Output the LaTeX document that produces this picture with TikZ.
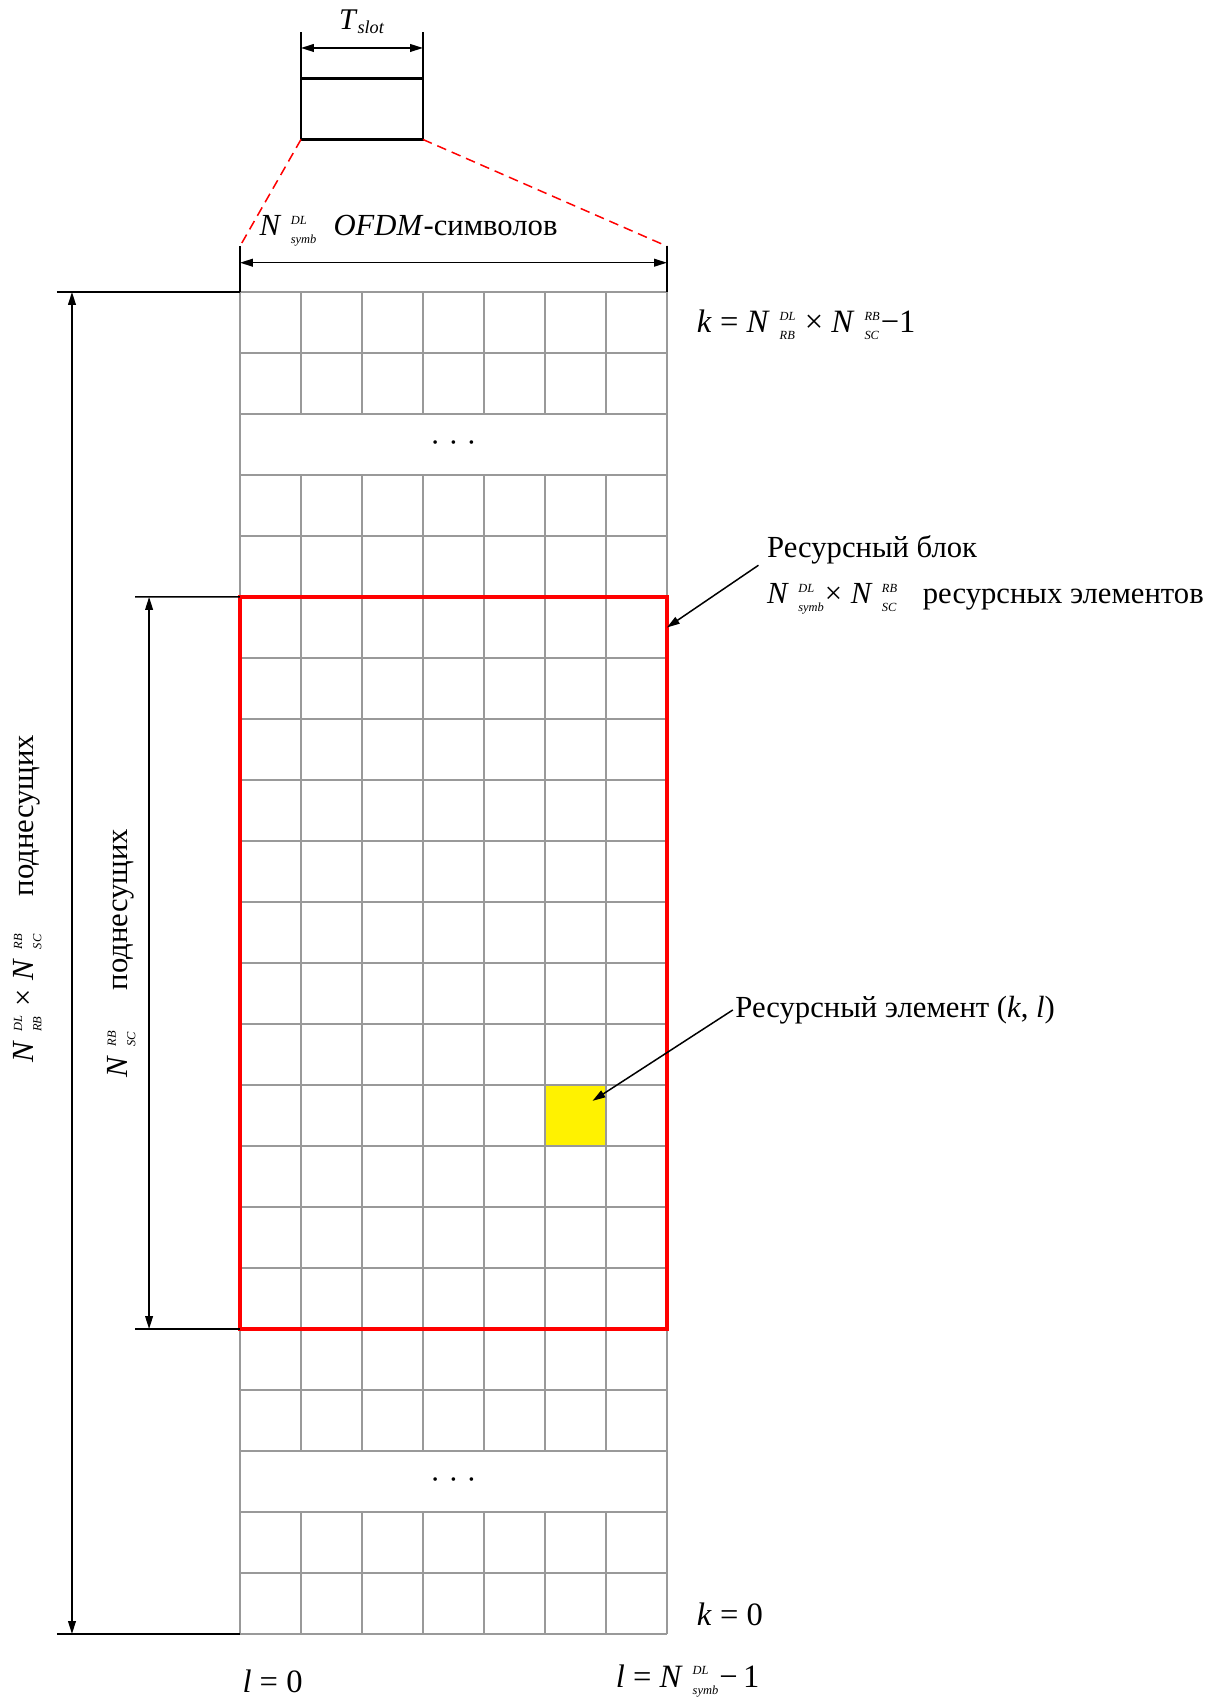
\documentclass[tikz,border=0pt]{standalone}
\usepackage{amsmath}
\usepackage{fontspec}
\setmainfont{Liberation Serif}
\usetikzlibrary{arrows.meta, positioning}

% small stacked indices next to N
\newcommand{\idxfont}{\fontsize{5.8}{6}\selectfont\itshape}
\newcommand{\Nidx}[2]{\ensuremath{\textit{N}^{\hspace{0.35em}\hbox{\idxfont #1}}_{\hspace{0.35em}\hbox{\idxfont #2}}}}

\begin{document}
\begin{tikzpicture}[
    x=1cm, y=1cm,
    every node/.style={font=\fontsize{14.3}{17}\selectfont, inner sep=1pt},
    idxlabel/.style={anchor=west, font=\fontsize{15.2}{18}\selectfont},
    cell/.style={draw=black!40, line width=0.7pt},
    rblock/.style={draw=red, line width=1.7pt, minimum width=7cm, minimum height=12cm, anchor=south west, inner sep=0pt, outer sep=0pt},
    relem/.style={fill=yellow, minimum width=1cm, minimum height=1cm, anchor=south west, inner sep=0pt, outer sep=0pt},
    slotbox/.style={draw, line width=1.3pt, minimum width=2cm, minimum height=1cm, inner sep=0pt, outer sep=0pt},
    dimarrow/.style={{Triangle[length=6pt,width=3.6pt]}-{Triangle[length=6pt,width=3.6pt]}, line width=0.7pt},
    extline/.style={line width=0.7pt},
    zoomline/.style={red, line width=0.7pt, dash pattern=on 4.5pt off 2.8pt},
    pointer/.style={-{Triangle[length=6pt,width=3.6pt]}, line width=0.7pt}
]
    \useasboundingbox (-3.934,-1.066) rectangle (15.869,26.787);

    % resource grid
    \node [relem] (re) at (5,8) {};
    \foreach \y in {0,...,22}
        \draw [cell] (0,\y) -- (7,\y);
    \foreach \x in {1,...,6} {
        \draw [cell] (\x,0) -- (\x,2);
        \draw [cell] (\x,3) -- (\x,19);
        \draw [cell] (\x,20) -- (\x,22);
    }
    \draw [cell] (0,0) -- (0,22);
    \draw [cell] (7,0) -- (7,22);
    \node (dotsTop) at (3.5,19.5) {\fontsize{7}{7}\selectfont •\hspace{6pt}•\hspace{6pt}•};
    \node (dotsBot) at (3.5,2.5) {\fontsize{7}{7}\selectfont •\hspace{6pt}•\hspace{6pt}•};
    \node [rblock] (rb) at (0,5) {};

    % slot and OFDM symbols
    \node [slotbox] (slot) at (2,25) {};
    \node [font=\fontsize{14}{16}\selectfont] (tslot) at (2,26.43) {\textit{T}$_{\hbox{\fontsize{8.5}{9}\selectfont\itshape slot}}$};
    \coordinate (sL) at (1,26.27);
    \coordinate (sR) at (3,26.27);
    \draw [extline] (slot.north west) -- (sL);
    \draw [extline] (slot.north east) -- (sR);
    \draw [dimarrow] (1,26) -- (3,26);

    \coordinate (gL) at (0,22.75);
    \coordinate (gR) at (7,22.75);
    \draw [zoomline] (slot.south west) -- (gL);
    \draw [zoomline] (slot.south east) -- (gR);
    \draw [extline] (0,22) -- (gL);
    \draw [extline] (7,22) -- (gR);
    \draw [dimarrow] (0,22.48) -- (7,22.48);
    \node [anchor=west] (ofdm) at (0.28,23.0) {\Nidx{DL}{symb}\; \textit{OFDM}-символов};

    % subcarrier dimensions
    \coordinate (oT) at (-3.0,22);
    \coordinate (oB) at (-3.0,0);
    \draw [extline] (oT) -- (0,22);
    \draw [extline] (oB) -- (0,0);
    \draw [dimarrow] (-2.754,0) -- (-2.754,22);
    \node [rotate=90] (allsc) at (-3.48,12.05) {\Nidx{DL}{RB}\;×\;\Nidx{RB}{SC}\hspace{1.2em}поднесущих};

    \coordinate (iT) at (-1.72,17);
    \coordinate (iB) at (-1.72,5);
    \draw [extline] (iT) -- (rb.north west);
    \draw [extline] (iB) -- (rb.south west);
    \draw [dimarrow] (-1.49,5) -- (-1.49,17);
    \node [rotate=90] (rbsc) at (-1.94,11.16) {\Nidx{RB}{SC}\hspace{1.3em}поднесущих};

    % indices
    \node [idxlabel] (kmax) at (7.45,21.46) {\textit{k} = \Nidx{DL}{RB} × \Nidx{RB}{SC}−1};
    \node [idxlabel] (kmin) at (7.45,0.32) {\textit{k} = 0};
    \node [idxlabel] (lmin) at (0,-0.77) {\textit{l} = 0};
    \node [idxlabel] (lmax) at (6.12,-0.77) {\textit{l} = \Nidx{DL}{symb}−\,1};

    % callouts
    \node [anchor=west, align=left] (rbText) at (8.6,17.36) {Ресурсный блок\\[4.5pt]\Nidx{DL}{symb}×\;\Nidx{RB}{SC}\;\; ресурсных элементов};
    \node [anchor=west] (reText) at (8.08,10.23) {Ресурсный элемент (\textit{k}, \textit{l})};

    \coordinate (rbFrom) at (8.5,17.52);
    \coordinate (rbTip) at (7,16.5);
    \draw [pointer] (rbFrom) -- (rbTip);
    \coordinate (reTip) at (5.78,8.74);
    \draw [pointer] (reText.west) -- (reTip);

\end{tikzpicture}
\end{document}
